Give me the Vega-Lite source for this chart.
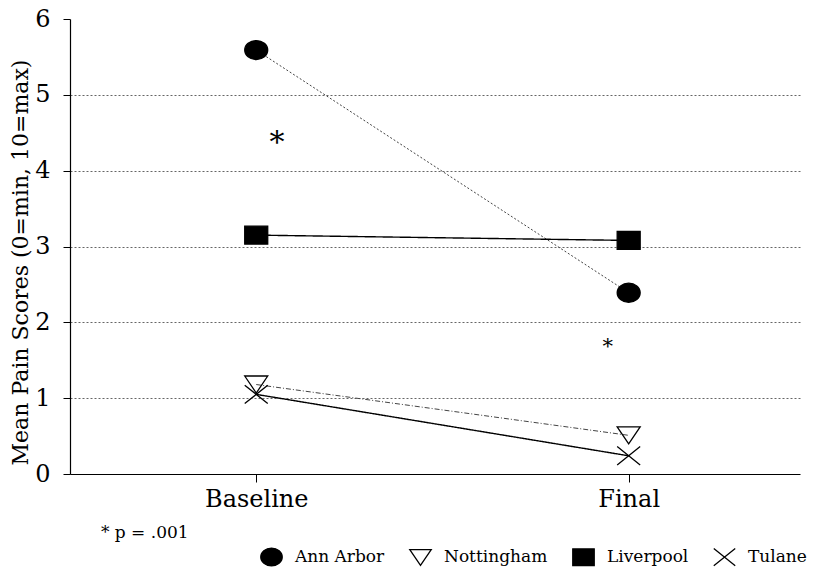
{
  "$schema": "https://vega.github.io/schema/vega-lite/v6.json",
  "width": 730,
  "height": 455,
  "autosize": "none",
  "padding": {"left": 70, "top": 19, "right": 15, "bottom": 95},
  "background": "white",
  "config": {
    "view": {"stroke": null},
    "font": "DejaVu Serif",
    "axis": {"domainColor": "black", "tickColor": "black", "labelColor": "black", "titleColor": "black", "labelFont": "DejaVu Serif", "titleFont": "DejaVu Serif"},
    "legend": {"labelFont": "DejaVu Serif", "labelColor": "black"}
  },
  "datasets": {
    "scores": [
      {"site": "Ann Arbor", "time": "Baseline", "t": 1, "score": 5.59},
      {"site": "Ann Arbor", "time": "Final", "t": 2, "score": 2.39},
      {"site": "Nottingham", "time": "Baseline", "t": 1, "score": 1.18},
      {"site": "Nottingham", "time": "Final", "t": 2, "score": 0.51},
      {"site": "Liverpool", "time": "Baseline", "t": 1, "score": 3.15},
      {"site": "Liverpool", "time": "Final", "t": 2, "score": 3.08},
      {"site": "Tulane", "time": "Baseline", "t": 1, "score": 1.05},
      {"site": "Tulane", "time": "Final", "t": 2, "score": 0.24}
    ],
    "bigstar": [{"label": "*", "t": 1.056, "score": 4.47}],
    "smallstar": [{"label": "*", "t": 1.944, "score": 1.74}],
    "footnote": [{"label": "* p = .001", "t": 0.583, "score": -0.78}]
  },
  "layer": [
    {
      "data": {"name": "scores"},
      "mark": {"type": "line"},
      "encoding": {
        "x": {
          "field": "t", "type": "quantitative",
          "scale": {"domain": [0.5, 2.46], "nice": false, "zero": false},
          "axis": {
            "title": null, "values": [1, 2], "grid": false,
            "labelExpr": "datum.value == 1 ? 'Baseline' : 'Final'",
            "labelFontSize": 24, "tickSize": 8, "labelPadding": 5, "domainWidth": 1.2
          }
        },
        "y": {
          "field": "score", "type": "quantitative",
          "scale": {"domain": [0, 6], "nice": false},
          "axis": {
            "title": "Mean Pain Scores (0=min, 10=max)",
            "titleFontSize": 22, "titleFontWeight": "normal", "titlePadding": 2, "titleY": 243,
            "values": [0, 0.5, 1, 1.5, 2, 2.5, 3, 3.5, 4, 4.5, 5, 5.5, 6],
            "format": ".0f",
            "labelExpr": "datum.value % 1 == 0 ? datum.label : ''",
            "labelFontSize": 24, "labelPadding": 13, "tickSize": 7,
            "domainWidth": 1.2,
            "grid": true, "gridDash": [2, 2], "gridColor": "#666", "gridWidth": 1,
            "gridOpacity": {"condition": {"test": "datum.value < 1 || datum.value > 5 || datum.value % 1 != 0", "value": 0}, "value": 1}
          }
        },
        "detail": {"field": "site"},
        "color": {"condition": {"test": "datum.site == 'Ann Arbor' || datum.site == 'Nottingham'", "value": "#444"}, "value": "black"},
        "strokeDash": {"condition": [
          {"test": "datum.site == 'Ann Arbor'", "value": [2, 2]},
          {"test": "datum.site == 'Nottingham'", "value": [5, 2, 1, 2]}
        ], "value": [1, 0]},
        "strokeWidth": {"condition": {"test": "datum.site == 'Ann Arbor' || datum.site == 'Nottingham'", "value": 1}, "value": 1.4}
      }
    },
    {
      "data": {"name": "scores"},
      "mark": {"type": "point", "filled": false, "strokeWidth": 1.3, "opacity": 1, "size": 529},
      "encoding": {
        "x": {"field": "t", "type": "quantitative"},
        "y": {"field": "score", "type": "quantitative"},
        "shape": {"field": "site", "type": "nominal",
          "scale": {"domain": ["Ann Arbor", "Nottingham", "Liverpool", "Tulane"],
            "range": ["M-1,0A1,0.83 0 1,0 1,0A1,0.83 0 1,0 -1,0Z", "M-1,-0.74L1,-0.74L0,0.74Z", "M-1,-0.78H1V0.78H-1Z", "M-1,-0.8L1,0.8M-1,0.8L1,-0.8"]},
          "legend": {
            "title": null, "orient": "none", "legendX": 190, "legendY": 526, "direction": "horizontal",
            "labelFontSize": 17, "symbolSize": 460, "symbolStrokeWidth": 1.3,
            "labelOffset": 12, "columnPadding": 22, "symbolOpacity": 1
          }
        },
        "fill": {"field": "site", "type": "nominal",
          "scale": {"domain": ["Ann Arbor", "Nottingham", "Liverpool", "Tulane"], "range": ["black", "transparent", "black", "transparent"]},
          "legend": {
            "title": null, "orient": "none", "legendX": 190, "legendY": 526, "direction": "horizontal",
            "labelFontSize": 17, "symbolSize": 460, "symbolStrokeWidth": 1.3,
            "labelOffset": 12, "columnPadding": 22, "symbolOpacity": 1
          }
        },
        "stroke": {"field": "site", "type": "nominal",
          "scale": {"domain": ["Ann Arbor", "Nottingham", "Liverpool", "Tulane"], "range": ["black", "black", "black", "black"]},
          "legend": {
            "title": null, "orient": "none", "legendX": 190, "legendY": 526, "direction": "horizontal",
            "labelFontSize": 17, "symbolSize": 460, "symbolStrokeWidth": 1.3,
            "labelOffset": 12, "columnPadding": 22, "symbolOpacity": 1
          }
        }
      }
    },
    {
      "data": {"name": "bigstar"},
      "mark": {"type": "text", "fontSize": 30, "color": "black", "baseline": "middle", "align": "center", "dy": 8},
      "encoding": {
        "x": {"field": "t", "type": "quantitative"},
        "y": {"field": "score", "type": "quantitative"},
        "text": {"field": "label"}
      }
    },
    {
      "data": {"name": "smallstar"},
      "mark": {"type": "text", "fontSize": 21, "color": "black", "baseline": "middle", "align": "center", "dy": 5},
      "encoding": {
        "x": {"field": "t", "type": "quantitative"},
        "y": {"field": "score", "type": "quantitative"},
        "text": {"field": "label"}
      }
    },
    {
      "data": {"name": "footnote"},
      "mark": {"type": "text", "fontSize": 17, "color": "black", "baseline": "middle", "align": "left"},
      "encoding": {
        "x": {"field": "t", "type": "quantitative"},
        "y": {"field": "score", "type": "quantitative"},
        "text": {"field": "label"}
      }
    }
  ]
}
